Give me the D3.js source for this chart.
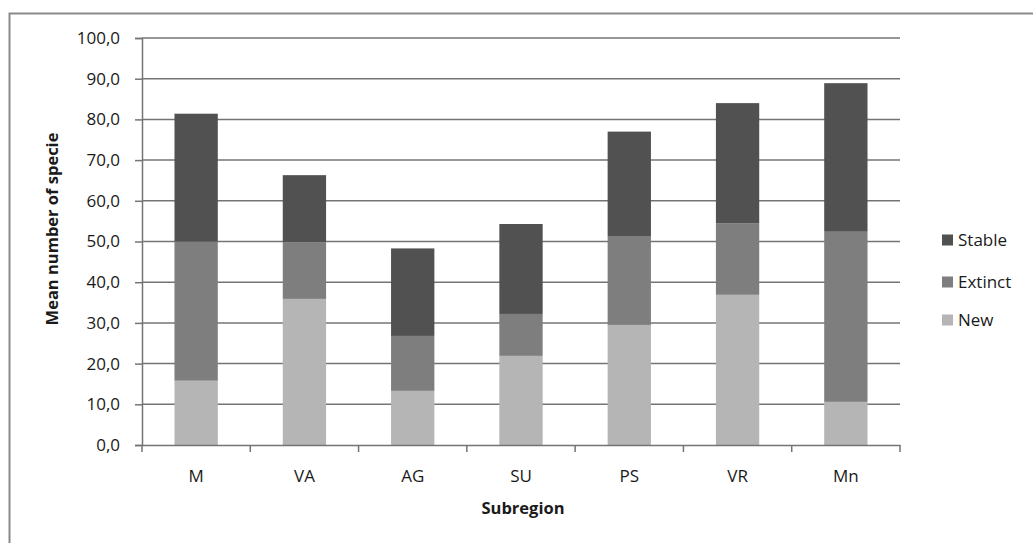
<!DOCTYPE html>
<html>
<head>
<meta charset="utf-8">
<script src="https://cdn.jsdelivr.net/npm/d3@7/dist/d3.min.js"></script>
<style>
  html, body { margin: 0; padding: 0; background: #ffffff; }
  svg { display: block; }
  text { font-family: "Open Sans", "Liberation Sans", sans-serif; fill: #1a1a1a; }
</style>
</head>
<body>
<svg id="chart" width="1033" height="543"></svg>
<script>
// Mean number of species per subregion, stacked by status
const subregions = ["M", "VA", "AG", "SU", "PS", "VR", "Mn"];
const newVals     = [15.8, 35.9, 13.3, 21.9, 29.5, 36.9, 10.6];
const extinctVals = [34.2, 13.9, 13.5, 10.3, 21.7, 17.6, 41.8];
const stableVals  = [31.4, 16.5, 21.5, 22.1, 25.8, 29.5, 36.5];
const seriesNames = ["New", "Extinct", "Stable"];
const yTicks = [0, 10, 20, 30, 40, 50, 60, 70, 80, 90, 100];

const colors = { New: "#b5b5b5", Extinct: "#7e7e7e", Stable: "#515151" };
const fontSize = 17;

const rows = subregions.map((s, i) => ({
  region: s, New: newVals[i], Extinct: extinctVals[i], Stable: stableVals[i]
}));

const svg = d3.select("#chart");
const plot = { left: 142, right: 900, top: 38, bottom: 445 };

// outer chart frame (runs past the right and bottom edges)
svg.append("rect")
  .attr("x", 9.5).attr("y", 13.5)
  .attr("width", 1040).attr("height", 560)
  .attr("fill", "none").attr("stroke", "#8a8a8a").attr("stroke-width", 2);

const x = d3.scaleBand().domain(subregions)
  .range([plot.left, plot.right]).paddingInner(0.6).paddingOuter(0.3);
const y = d3.scaleLinear().domain([0, 100]).range([plot.bottom, plot.top]);

// horizontal gridlines
svg.append("g").selectAll("line").data(yTicks.filter(t => t > 0)).join("line")
  .attr("x1", plot.left).attr("x2", plot.right)
  .attr("y1", d => y(d)).attr("y2", d => y(d))
  .attr("stroke", "#747474").attr("stroke-width", 1.5);

// stacked bars
const stack = d3.stack().keys(seriesNames)(rows);
svg.append("g").selectAll("g").data(stack).join("g")
  .attr("fill", d => colors[d.key])
  .selectAll("rect").data(d => d).join("rect")
  .attr("x", d => x(d.data.region))
  .attr("width", x.bandwidth())
  .attr("y", d => y(d[1]))
  .attr("height", d => y(d[0]) - y(d[1]));

// y axis
const yAxis = svg.append("g")
  .attr("transform", `translate(${plot.left},0)`)
  .call(d3.axisLeft(y).tickValues(yTicks).tickSize(7).tickPadding(15)
    .tickFormat(d => d3.format(".1f")(d).replace(".", ",")));
yAxis.select(".domain").attr("stroke", "#747474").attr("stroke-width", 1.5);
yAxis.selectAll(".tick line").attr("stroke", "#747474").attr("stroke-width", 1.5);
yAxis.selectAll("text").attr("font-size", fontSize).attr("fill", "#1a1a1a")
  .style("font-family", "'Open Sans', sans-serif");

// x axis with tick marks between categories
const xAxis = svg.append("g")
  .attr("transform", `translate(0,${plot.bottom})`)
  .call(d3.axisBottom(x).tickSize(0).tickPadding(25));
xAxis.select(".domain").attr("stroke", "#747474").attr("stroke-width", 1.5);
xAxis.selectAll("text").attr("font-size", fontSize).attr("fill", "#1a1a1a")
  .style("font-family", "'Open Sans', sans-serif");
const boundaries = d3.range(subregions.length + 1).map(i => plot.left + i * (plot.right - plot.left) / subregions.length);
svg.append("g").selectAll("line").data(boundaries).join("line")
  .attr("x1", d => d).attr("x2", d => d)
  .attr("y1", plot.bottom).attr("y2", plot.bottom + 7)
  .attr("stroke", "#747474").attr("stroke-width", 1.5);

// axis titles
svg.append("text")
  .attr("transform", `translate(58,229) rotate(-90)`)
  .attr("text-anchor", "middle").attr("font-size", 16.5).attr("font-weight", "bold")
  .text("Mean number of specie");
svg.append("text")
  .attr("x", 523).attr("y", 514)
  .attr("text-anchor", "middle").attr("font-size", 16.5).attr("font-weight", "bold")
  .text("Subregion");

// legend (Stable on top)
const legendItems = ["Stable", "Extinct", "New"];
const legendY = [240, 282, 320];
const legend = svg.append("g").attr("transform", "translate(942,0)");
legendItems.forEach((k, i) => {
  const g = legend.append("g").attr("transform", `translate(0,${legendY[i]})`);
  g.append("rect").attr("x", 0).attr("y", -5.5).attr("width", 11).attr("height", 11)
    .attr("fill", colors[k]);
  g.append("text").attr("x", 16).attr("y", 0).attr("dy", "0.35em")
    .attr("font-size", fontSize).text(k);
});
</script>
</body>
</html>
